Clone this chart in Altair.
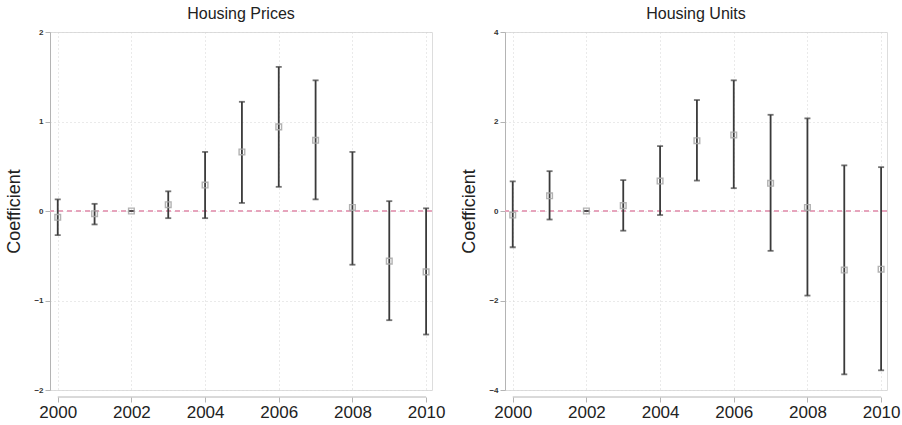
import altair as alt
import pandas as pd

years = list(range(2000, 2011))

# Event-study coefficients with 95% confidence bounds
price_coef = [-0.07, -0.03, 0.0, 0.07, 0.29, 0.66, 0.94, 0.79, 0.04, -0.56, -0.68]
price_lo = [-0.27, -0.15, 0.0, -0.08, -0.08, 0.09, 0.27, 0.13, -0.60, -1.22, -1.38]
price_hi = [0.13, 0.08, 0.0, 0.22, 0.66, 1.22, 1.61, 1.46, 0.66, 0.11, 0.03]

units_coef = [-0.09, 0.34, 0.0, 0.12, 0.67, 1.57, 1.70, 0.62, 0.08, -1.32, -1.30]
units_lo = [-0.81, -0.19, 0.0, -0.44, -0.09, 0.68, 0.51, -0.89, -1.89, -3.65, -3.56]
units_hi = [0.66, 0.89, 0.0, 0.69, 1.45, 2.48, 2.92, 2.15, 2.07, 1.02, 0.98]

x_ticks = [2000, 2002, 2004, 2006, 2008, 2010]
price_ticks = [-2, -1, 0, 1, 2]
units_ticks = [-4, -2, 0, 2, 4]

FONT = "Liberation Sans"
W, H = 382, 358
X_DOMAIN = [1999.79, 2010.16]
AXIS_GREY = "#b4b4b4"
GRID_GREY = "#d4d4d4"


def panel(title, coef, lo, hi, y_ticks):
    df = pd.DataFrame({"year": years, "coef": coef, "lo": lo, "hi": hi})
    ymin, ymax = y_ticks[0], y_ticks[-1]

    x_enc = alt.X(
        "year:Q",
        scale=alt.Scale(domain=X_DOMAIN, nice=False, zero=False),
        axis=alt.Axis(
            values=x_ticks, format="d", title=None, domain=False,
            labelFontSize=17, labelColor="#222", labelFont=FONT,
            tickSize=5, tickColor=AXIS_GREY, offset=7, labelPadding=2,
            grid=True, gridColor=GRID_GREY, gridDash=[1, 3], gridWidth=1,
        ),
    )
    y_scale = alt.Scale(domain=[ymin, ymax], nice=False, zero=False)
    y_enc = alt.Y(
        "lo:Q",
        scale=y_scale,
        axis=alt.Axis(
            values=y_ticks, format="d", title="Coefficient", titleFontSize=18,
            titleFont=FONT, titleFontWeight="normal", titleColor="#222",
            titlePadding=10, labelFontSize=8, labelFont=FONT,
            labelFontWeight="bold", labelColor="#333", tickSize=5,
            tickColor=AXIS_GREY, domainColor=AXIS_GREY, labelPadding=2,
            grid=True, gridColor=GRID_GREY, gridDash=[1, 3], gridWidth=1,
        ),
    )

    base = alt.Chart(df)

    zero_line = base.mark_rule(
        color="#e6a3bb", strokeDash=[5, 4], strokeWidth=1.2
    ).encode(y=alt.datum(0, scale=y_scale))

    bars = base.mark_rule(color="#3a3a3a", strokeWidth=1.8).encode(
        x=x_enc, y=y_enc, y2="hi:Q"
    )
    cap_lo = base.mark_tick(
        color="#3a3a3a", orient="horizontal", size=6, thickness=1.8
    ).encode(x="year:Q", y="lo:Q")
    cap_hi = base.mark_tick(
        color="#3a3a3a", orient="horizontal", size=6, thickness=1.8
    ).encode(x="year:Q", y="hi:Q")
    points = base.mark_point(
        shape="square", filled=False, color="#aaaaaa", size=32,
        strokeWidth=1.4, opacity=0.9,
    ).encode(x="year:Q", y="coef:Q")

    x_line = alt.Chart(pd.DataFrame({"a": [x_ticks[0]], "b": [x_ticks[-1]]})).mark_rule(
        color=AXIS_GREY, strokeWidth=1
    ).encode(x="a:Q", x2="b:Q", y=alt.value(H + 7))

    return alt.layer(zero_line, bars, cap_lo, cap_hi, points, x_line).properties(
        width=W, height=H,
        title=alt.TitleParams(
            title, fontSize=16, font=FONT, fontWeight="normal",
            color="#222", offset=6,
        ),
    )


left = panel("Housing Prices", price_coef, price_lo, price_hi, price_ticks)
right = panel("Housing Units", units_coef, units_lo, units_hi, units_ticks)

chart = (
    alt.hconcat(left, right, spacing=14)
    .properties(padding={"left": 5, "top": 5, "right": 0, "bottom": 0})
    .configure_view(stroke=None)
    .configure(background="white")
)

chart.save("out.html", embed_options={"renderer": "svg", "actions": False})
